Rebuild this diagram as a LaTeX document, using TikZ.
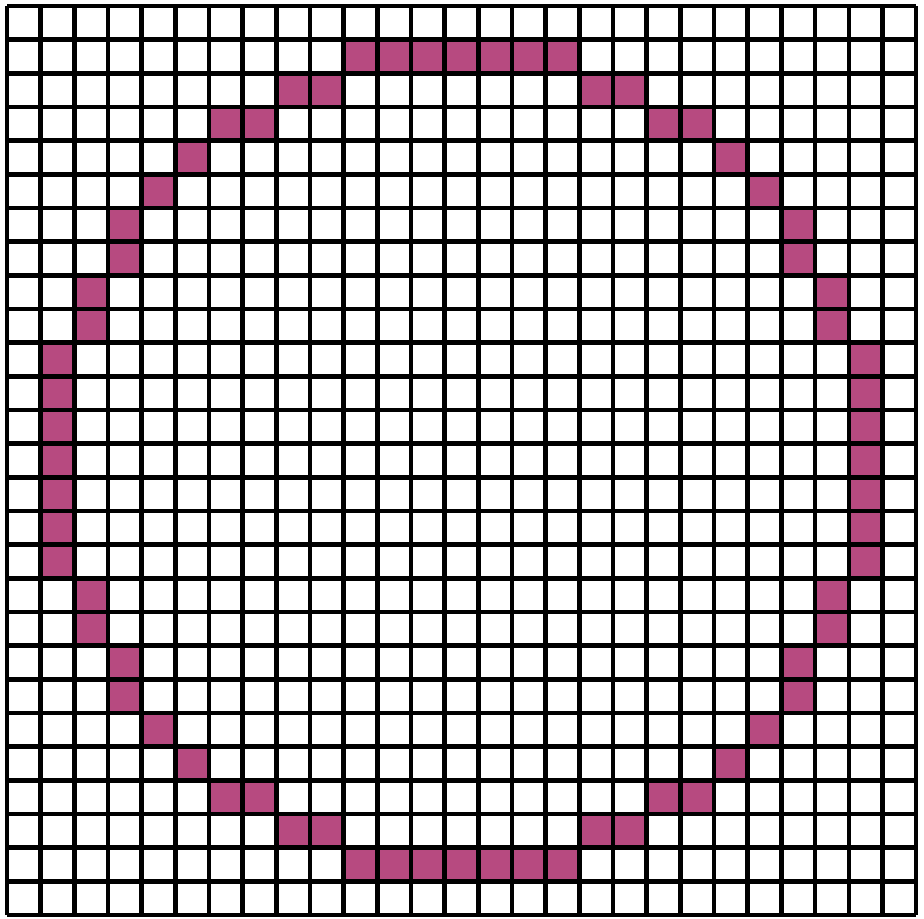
\documentclass[tikz,border=0pt]{standalone}
\usepackage{xcolor}
\usepackage{tikz}
\usetikzlibrary{calc}

\definecolor{pixfill}{RGB}{183,74,128}

\begin{document}
\begin{tikzpicture}[
  x=0.5cm, y=0.5cm,
  gridline/.style={line width=1.9pt, black},
  pix/.style={fill=pixfill, draw=none},
]
\useasboundingbox (-0.208,-0.089) rectangle (27.235,27.178);
% lit cells of the rasterised circle, radius 12, centre cell (13,13)
\foreach \dx/\dy in {0/12, 1/12, 2/12, 3/12, 4/11, 5/11, 6/10, 7/10, 8/9} {
  \foreach \sx in {1,-1} {
    \foreach \sy in {1,-1} {
      \fill[pix] (13+\sx*\dx, 13+\sy*\dy) rectangle ++(1,1);
      \fill[pix] (13+\sx*\dy, 13+\sy*\dx) rectangle ++(1,1);
    }
  }
}
\draw[gridline] (0,0) grid[step=1] (27,27);
\end{tikzpicture}
\end{document}
